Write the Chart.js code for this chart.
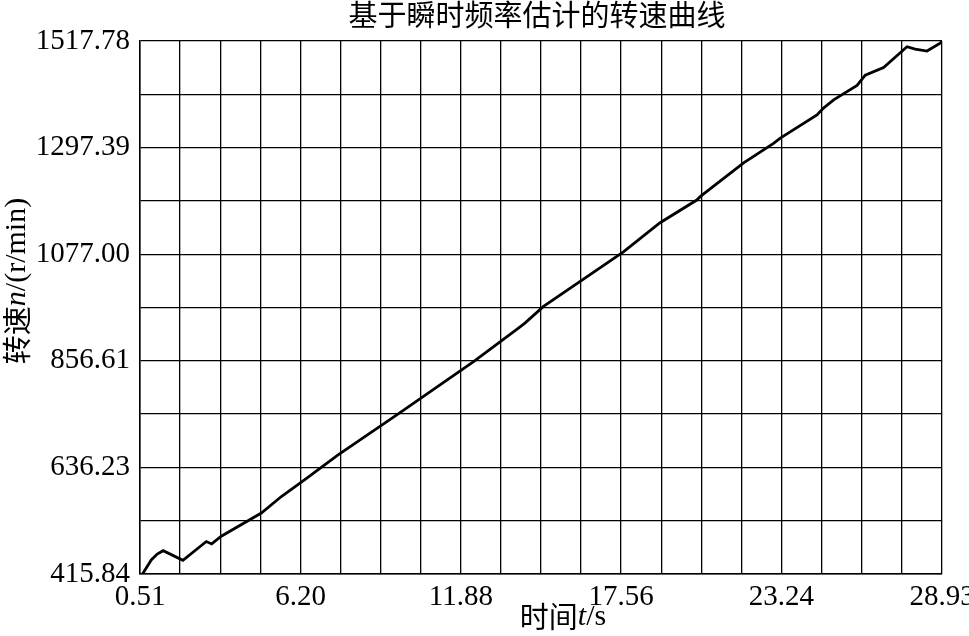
<!DOCTYPE html>
<html><head><meta charset="utf-8">
<script src="https://cdn.jsdelivr.net/npm/chart.js@4"></script>
<style>html,body{margin:0;padding:0;background:#fff;}canvas{display:block;}</style>
</head><body>
<canvas id="c" width="969" height="636"></canvas>
<script>
const chartTitle = '基于瞬时频率估计的转速曲线';
const xTitleParts = [['时间', 'cjk'], ['t', 'it'], ['/s', 'serif']];
const yTitleParts = [['转速', 'cjk'], ['n', 'it'], ['/(r/min)', 'serif']];
const xTickLabels = ['0.51', '6.20', '11.88', '17.56', '23.24', '28.93'];
const yTickLabels = ['415.84', '636.23', '856.61', '1077.00', '1297.39', '1517.78'];
const timeS = [0.60, 0.91, 1.12, 1.33, 2.03, 2.86, 3.05, 3.39, 4.81, 5.52, 6.35, 7.53, 9.61, 12.33, 13.98, 14.16, 14.81, 17.64, 18.94, 20.24, 20.36, 21.90, 22.96, 23.20, 24.50, 24.73, 25.09, 25.92, 26.21, 26.86, 27.69, 27.98, 28.40, 28.88, 28.93];
const speedRpm = [416, 445, 457, 464, 444, 483, 478, 494, 542, 576, 611, 662, 745, 855, 927, 935, 969, 1082, 1142, 1189, 1196, 1266, 1306, 1317, 1365, 1379, 1396, 1426, 1447, 1463, 1506, 1501, 1497, 1514, 1517.78];

const xMajor = xTickLabels.map(Number);
const yMajor = yTickLabels.map(Number);
function subdivide(major, n) {
  const out = [];
  for (let i = 0; i < major.length - 1; i++) {
    for (let k = 0; k < n; k++) out.push(major[i] + (major[i + 1] - major[i]) * k / n);
  }
  out.push(major[major.length - 1]);
  return out;
}
const fonts = {
  cjk: '29px "Noto Sans CJK SC"',
  it: 'italic 30px "Liberation Serif"',
  serif: '30px "Liberation Serif"'
};
function drawParts(ctx, parts, x, y, rot) {
  ctx.save();
  ctx.translate(x, y);
  ctx.rotate(rot);
  let total = 0;
  const widths = parts.map(p => { ctx.font = fonts[p[1]]; const w = ctx.measureText(p[0]).width; total += w; return w; });
  let cx = -total / 2;
  ctx.textAlign = 'left';
  ctx.textBaseline = 'middle';
  parts.forEach((p, i) => { ctx.font = fonts[p[1]]; ctx.fillText(p[0], cx, 0); cx += widths[i]; });
  ctx.restore();
}
const textPlugin = {
  id: 'texts',
  afterDraw(chart) {
    const ctx = chart.ctx, a = chart.chartArea;
    ctx.save();
    ctx.fillStyle = '#000';
    ctx.textBaseline = 'middle';
    ctx.textAlign = 'center';
    ctx.font = fonts.cjk;
    ctx.fillText(chartTitle, (a.left + a.right) / 2 - 4, 15);
    drawParts(ctx, xTitleParts, 563, 617, 0);
    drawParts(ctx, yTitleParts, 17, 281, -Math.PI / 2);
    ctx.restore();
  }
};
const tickFont = { family: 'Liberation Serif', size: 29 };
new Chart(document.getElementById('c'), {
  type: 'line',
  data: {
    datasets: [{
      data: timeS.map((t, i) => ({ x: t, y: speedRpm[i] })),
      borderColor: '#000',
      borderWidth: 2.8,
      pointRadius: 0,
      tension: 0,
      fill: false
    }]
  },
  options: {
    responsive: false,
    animation: false,
    devicePixelRatio: 1,
    layout: { padding: { top: 41, right: 27, left: 0, bottom: 0 } },
    plugins: { legend: { display: false }, title: { display: false }, tooltip: { enabled: false } },
    scales: {
      x: {
        type: 'linear',
        min: xMajor[0], max: xMajor[xMajor.length - 1],
        afterBuildTicks: s => { s.ticks = subdivide(xMajor, 4).map(v => ({ value: v })); },
        afterFit: s => { s.height = 62; s.paddingLeft = 0; s.paddingRight = 0; },
        ticks: {
          autoSkip: false, maxRotation: 0, minRotation: 0, padding: 6, color: '#000', font: tickFont,
          callback: (v, i) => (i % 4 === 0 ? xTickLabels[i / 4] : '')
        },
        grid: { color: '#000', lineWidth: 1.3, drawTicks: false },
        border: { color: '#000', width: 1.5 }
      },
      y: {
        type: 'linear',
        min: yMajor[0], max: yMajor[yMajor.length - 1],
        afterBuildTicks: s => { s.ticks = subdivide(yMajor, 2).map(v => ({ value: v })); },
        afterFit: s => { s.width = 140; s.paddingTop = 0; s.paddingBottom = 0; },
        ticks: {
          autoSkip: false, padding: 10, color: '#000', font: tickFont,
          callback: (v, i) => (i % 2 === 0 ? yTickLabels[i / 2] : '')
        },
        grid: { color: '#000', lineWidth: 1.3, drawTicks: false },
        border: { color: '#000', width: 1.5 }
      }
    }
  },
  plugins: [textPlugin]
});
</script>
</body></html>
